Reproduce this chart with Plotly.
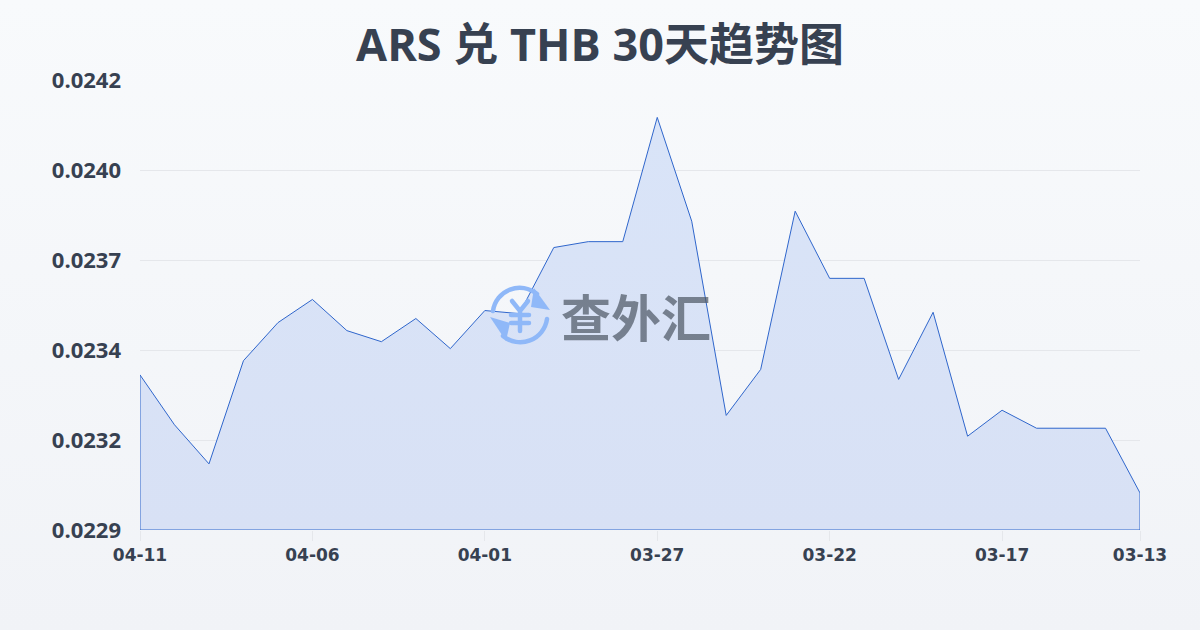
import base64
import plotly.graph_objects as go

dates = ["04-11","04-10","04-09","04-08","04-07","04-06","04-05","04-04","04-03","04-02",
         "04-01","03-31","03-30","03-29","03-28","03-27","03-26","03-25","03-24","03-23",
         "03-22","03-21","03-20","03-19","03-18","03-17","03-16","03-15","03-14","03-13"]
rates = [0.023348,0.023204,0.023091,0.023389,0.023499,0.023566,0.023476,0.023444,0.023511,0.023424,
         0.023534,0.023525,0.023716,0.023733,0.023733,0.024092,0.023792,0.023231,0.023364,0.023821,
         0.023627,0.023627,0.023335,0.023529,0.023171,0.023246,0.023194,0.023194,0.023194,0.023007]
y_min = 0.0229
y_max = 0.0242
y_ticks = [0.0229,0.02316,0.02342,0.02368,0.02394,0.0242]
y_labels = ["0.0229","0.0232","0.0234","0.0237","0.0240","0.0242"]
x_tick_idx = [0,5,10,15,20,25,29]
title = "ARS 兑 THB 30天趋势图"
watermark = "查外汇"

def svg_uri(svg):
    return "data:image/svg+xml;base64," + base64.b64encode(svg.encode()).decode()

bg = svg_uri('<svg xmlns="http://www.w3.org/2000/svg" width="1200" height="630" preserveAspectRatio="none">'
             '<defs><linearGradient id="g" x1="0" y1="0" x2="0" y2="1"><stop offset="0" stop-color="#f8fafc"/>'
             '<stop offset="1" stop-color="#f1f3f7"/></linearGradient></defs>'
             '<rect width="1200" height="630" fill="url(#g)"/></svg>')
logo = svg_uri('<svg xmlns="http://www.w3.org/2000/svg" width="60" height="60" viewBox="0 0 60 60">'
               '<g fill="none" stroke="#8fb8f8" stroke-width="4.5" stroke-linecap="round">'
               '<path d="M3 26 A27 27 0 0 1 47 9"/><path d="M57 34 A27 27 0 0 1 13 51"/>'
               '<path d="M22 16 L30 26 L38 16 M21 30 H39 M21 38 H39 M30 26 V46"/></g>'
               '<path d="M44 3 L60 25 L41 22 Z" fill="#8fb8f8"/><path d="M0 32 L20 38 L16 56 Z" fill="#8fb8f8"/></svg>')

xs = list(range(len(rates)))
fig = go.Figure()
fig.add_trace(go.Scatter(
    x=xs + [xs[-1], xs[0], xs[0]],
    y=rates + [y_min, y_min, rates[0]],
    mode="lines", fill="toself",
    fillgradient=dict(type="vertical", colorscale=[[0, "#d8e1f5"], [1, "#d9e4f8"]]),
    line=dict(color="#2f66cc", width=1),
    hoverinfo="skip", showlegend=False,
))
fig.update_layout(
    width=1200, height=630,
    margin=dict(l=140, r=60, t=80, b=100),
    paper_bgcolor="#f5f7fa", plot_bgcolor="rgba(0,0,0,0)",
    title=dict(text=title, x=0.5, xanchor="center", y=0.928, yanchor="middle",
               font=dict(family="Open Sans, Noto Sans CJK SC", size=45, color="#374151", weight="bold")),
    xaxis=dict(range=[0, len(rates) - 1], tickmode="array", tickvals=x_tick_idx,
               ticktext=[dates[i] for i in x_tick_idx], showgrid=False, zeroline=False,
               ticks="outside", ticklen=10, tickcolor="#e5e7eb", tickwidth=1, showline=False,
               tickfont=dict(family="DejaVu Sans", size=17, color="#374151", weight="bold")),
    yaxis=dict(range=[y_min, y_max], tickmode="array", tickvals=y_ticks, ticktext=y_labels,
               gridcolor="#e5e7eb", gridwidth=1, zeroline=False, showline=False, ticks="",
               ticklabelstandoff=18,
               tickfont=dict(family="Open Sans", size=22, color="#374151", weight="bold")),
    images=[
        dict(source=bg, xref="paper", yref="paper", x=-140/1000, y=1+80/450, sizex=1200/1000,
             sizey=630/450, xanchor="left", yanchor="top", sizing="stretch", layer="below"),
        dict(source=logo, xref="paper", yref="paper", x=(490-140)/1000, y=(530-285)/450,
             sizex=60/1000, sizey=60/450, xanchor="left", yanchor="top", sizing="stretch", layer="above"),
    ],
    annotations=[dict(text=watermark, xref="paper", yref="paper", x=(636-140)/1000, y=(530-315)/450,
                      xanchor="center", yanchor="middle", showarrow=False,
                      font=dict(family="Noto Sans CJK SC", size=50, color="rgba(75,85,99,0.7)", weight="bold"))],
)
fig.write_html("out.html", config={"displayModeBar": False}, post_script="document.body.style.margin='0';")
